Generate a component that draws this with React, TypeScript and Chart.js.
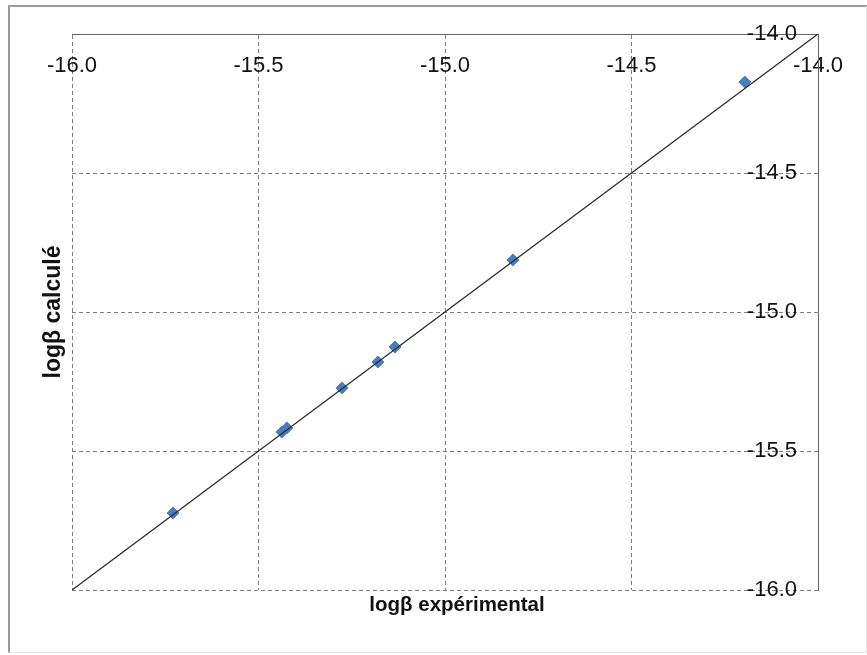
import React, { useEffect, useRef } from "react";
import { Chart, registerables } from "chart.js";

Chart.register(...registerables);

const expX = [-15.729, -15.437, -15.424, -15.276, -15.18, -15.134, -14.818, -14.196];
const calcY = [-15.723, -15.432, -15.417, -15.273, -15.18, -15.126, -14.813, -14.173];
const lineX = [-16, -14];
const lineY = [-16, -14];
const axisMin = -16;
const axisMax = -14;
const tickStep = 0.5;
const xTitle = "logβ expérimental";
const yTitle = "logβ calculé";

export default function App() {
  const ref = useRef<HTMLCanvasElement | null>(null);
  useEffect(() => {
    if (!ref.current) return;
    const font = "'Liberation Sans', Arial, sans-serif";
    const gridColor = "#808080";
    const borderColor = "#666";
    const tickFont = { family: font, size: 22 };
    const shiftTitle = {
      id: "shiftTitle",
      beforeDraw(chart: any) {
        const s = chart.scales.x2;
        if (s) {
          s.left = chart.chartArea.left + 24;
          s.right = chart.chartArea.right;
        }
      },
    };
    const chart = new Chart(ref.current, {
      type: "scatter",
      data: {
        datasets: [
          {
            type: "line",
            data: lineX.map((x, i) => ({ x, y: lineY[i] })),
            borderColor: "#2a2a2a",
            borderWidth: 1.3,
            pointRadius: 0,
            fill: false,
          },
          {
            data: expX.map((x, i) => ({ x, y: calcY[i] })),
            pointStyle: "rectRot",
            pointRadius: 6,
            backgroundColor: "#4a7ebb",
            borderColor: "#4a7ebb",
            borderWidth: 1,
          },
        ],
      },
      options: {
        responsive: false,
        animation: false,
        layout: { padding: { left: 36, right: 49, top: 34, bottom: 33 } },
        plugins: { legend: { display: false }, tooltip: { enabled: false }, title: { display: false } },
        scales: {
          x: {
            type: "linear",
            position: "top",
            min: axisMin,
            max: axisMax,
            afterFit: (s: any) => { s.height = 0; },
            ticks: {
              stepSize: tickStep,
              mirror: true,
              padding: 19,
              color: "#111",
              font: tickFont,
              callback: (v: any) => Number(v).toFixed(1),
              maxRotation: 0,
            },
            grid: { color: gridColor, lineWidth: 1, drawTicks: false },
            border: { display: true, color: borderColor, width: 1, dash: [4, 3] },
          },
          y: {
            type: "linear",
            position: "right",
            min: axisMin,
            max: axisMax,
            afterFit: (s: any) => { s.width = 0; },
            ticks: {
              stepSize: tickStep,
              mirror: true,
              padding: -21,
              color: "#111",
              font: tickFont,
              callback: (v: any) => Number(v).toFixed(1),
            },
            grid: { color: gridColor, lineWidth: 1, drawTicks: false },
            border: { display: true, color: borderColor, width: 1, dash: [4, 3] },
          },
          x2: {
            type: "linear",
            position: "bottom",
            display: true,
            afterFit: (s: any) => { s.height = 32; },
            grid: { display: false, drawTicks: false },
            ticks: { display: false },
            border: { display: false },
            title: {
              display: true,
              text: xTitle,
              color: "#111",
              font: { family: font, size: 20.5, weight: "bold" },
              padding: { top: 4, bottom: 4 },
            },
          },
          y2: {
            type: "linear",
            position: "left",
            display: true,
            afterFit: (s: any) => { s.width = 36; },
            grid: { display: false, drawTicks: false },
            ticks: { display: false },
            border: { display: false },
            title: {
              display: true,
              text: yTitle,
              color: "#111",
              font: { family: font, size: 23, weight: "bold" },
              padding: { top: 4, bottom: 4 },
            },
          },
        },
      },
      plugins: [shiftTitle],
    } as any);
    return () => chart.destroy();
  }, []);
  return (
    <div style={{ position: "absolute", left: 0, top: 0, width: 867, height: 655, background: "#fff" }}>
      <div
        style={{
          position: "absolute",
          left: 8,
          top: 5,
          width: 856,
          height: 645,
          borderTop: "2px solid #9a9a9a",
          borderLeft: "2px solid #9a9a9a",
          borderRight: "1px solid #e4e4e4",
          borderBottom: "1px solid #e4e4e4",
        }}
      />
      <canvas ref={ref} width={867} height={655} style={{ position: "absolute", left: 0, top: 0, display: "block" }} />
    </div>
  );
}
